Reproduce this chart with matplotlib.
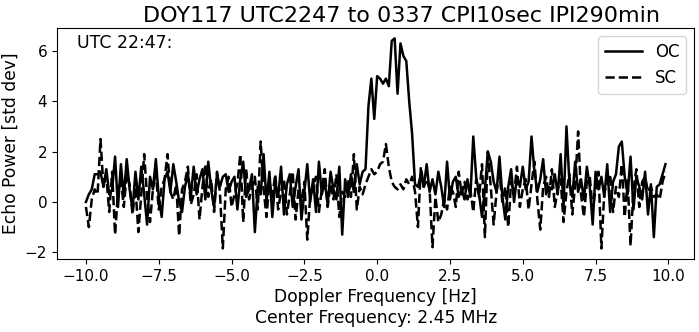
import numpy as np
import matplotlib
matplotlib.use("Agg")
from matplotlib import pyplot as plt

# doppler bins, 0.1 Hz resolution (CPI 10 s)
freq = np.round(np.arange(-100, 100) * 0.1, 1)

# echo power, opposite circular (OC) polarisation [std dev]
oc_power = [
    0.0, 0.3, 0.5, 1.1, 1.1, 1.2, 0.6, 1.3, 0.3, 0.5,
    1.8, -0.2, 1.5, 0.2, 1.7, 0.5, -0.3, 1.2, 0.1, 1.4,
    0.3, -0.9, 1.0, 0.5, 1.7, 0.2, -0.6, 0.9, 1.2, 0.4,
    1.5, 0.8, 0.0, -0.4, 0.6, 1.1, 0.2, 1.4, 0.3, 0.9,
    1.3, 0.1, 1.6, 0.5, -0.2, 1.1, 0.6, 1.0, 1.1, 0.4,
    0.8, 1.0, -0.3, 0.9, 1.6, 0.2, 0.5, 1.1, -1.2, 0.6,
    0.3, 1.9, 0.0, 1.2, -0.6, 0.8, 0.2, 1.4, -0.5, 0.7,
    1.1, -0.2, 0.6, 1.3, -0.7, 0.4, 1.5, 0.0, 0.9, -0.4,
    1.6, 0.3, 0.8, -0.1, 1.2, 0.5, 0.1, 1.4, -1.3, 0.9,
    0.2, 1.1, 0.4, 1.5, 0.7, 1.2, 1.3, 3.8, 4.9, 3.3,
    5.0, 4.9, 4.7, 4.9, 4.6, 6.4, 6.5, 4.3, 6.3, 5.8,
    5.6, 4.0, 2.7, 0.7, 0.6, 1.1, 0.6, 1.5, 0.4, 0.9,
    0.3, 1.2, 0.6, -0.2, 1.6, 0.1, 0.8, 1.0, 0.2, 0.5,
    0.1, 0.9, 0.2, 2.6, 1.0, 0.3, -0.6, 0.5, 2.0, 1.6,
    0.8, 0.4, 1.8, 0.2, -0.7, 0.6, 1.3, 0.0, 1.0, 0.6,
    1.4, 0.5, 0.8, 2.6, 1.2, 0.4, 0.9, 1.7, 0.3, 0.6,
    0.5, 1.1, 0.3, 1.9, -0.2, 3.0, 0.8, 0.2, 1.6, 0.4,
    0.9, 0.1, 1.4, 0.6, -0.9, 1.2, 0.5, 1.0, 0.2, 1.5,
    -0.4, 0.8, 1.1, 2.2, 2.4, 1.0, 0.3, 1.8, -0.3, 1.0,
    0.6, 0.1, 1.2, -0.5, 0.7, -1.4, 0.6, 0.7, 1.1, 1.5,
]

# echo power, same circular (SC) polarisation [std dev]
sc_power = [
    -0.2, -1.0, 0.1, 0.5, 0.3, 2.5, 0.6, 1.0, -0.4, 1.2,
    -1.3, 0.4, 0.9, -0.2, 1.1, 0.7, -0.5, 0.6, -1.2, 0.3,
    1.9, 0.2, -0.8, 0.5, 1.2, -0.3, 0.6, 0.9, 1.9, 0.4,
    0.1, 0.7, -1.35, 0.5, 0.8, 1.4, -0.1, 0.3, 1.1, -0.7,
    0.6, 1.5, 0.2, 0.9, -0.4, 1.2, 0.4, -1.85, 0.5, 1.0,
    -0.2, 0.3, 0.7, 1.9, -0.8, 1.3, 0.1, 0.6, 1.0, -0.3,
    2.4, 0.5, -0.6, 0.8, 0.2, 1.1, -0.3, 0.4, 0.9, -0.5,
    0.3, 1.2, -0.7, 0.5, 0.0, 0.8, -1.5, 0.2, 0.6, 1.0,
    -0.4, 0.5, 1.3, -0.2, 0.7, 0.1, 1.1, -0.6, 0.4, 0.2,
    0.9, 0.2, 1.9, -0.3, 0.6, 0.3, 0.7, 1.0, 1.3, 1.1,
    1.2, 1.5, 1.6, 2.3, 1.4, 0.8, 0.6, 0.5, 0.7, 0.5,
    0.9, 0.7, 1.0, 0.4, -1.0, 1.4, 0.6, 0.9, 0.5, -1.8,
    0.2, -0.8, -0.5, 0.1, -0.3, 0.6, 0.4, -0.2, 1.2, 0.3,
    0.8, 0.1, 0.5, -0.4, 0.9, 0.2, 1.5, -1.4, 2.0, 0.6,
    -0.9, 0.4, 1.1, 0.0, 0.6, -1.0, 0.8, 0.3, 1.4, -0.2,
    0.5, 0.9, -0.3, 0.7, 1.6, 0.1, -1.1, 0.6, 1.0, 0.2,
    1.3, -0.2, 0.5, 0.9, -0.8, 0.4, 1.1, -0.5, 0.7, 2.8,
    0.3, -0.6, 0.8, 1.0, -0.3, 0.5, 1.2, -1.85, 0.4, 0.7,
    1.1, -0.4, 0.6, 0.2, 1.5, -0.6, 0.9, -1.75, 0.5, 1.3,
    -0.2, 0.8, 1.0, 0.4, 0.6, 0.2, 0.3, 0.1, 0.8, 1.2,
]

fig = plt.figure(figsize=(6.99, 3.32), dpi=100)
ax = fig.add_axes([0.0815, 0.22, 0.912, 0.696])

ax.plot(freq, oc_power, 'k-', lw=1.8, label='OC')
ax.plot(freq, sc_power, 'k--', lw=1.8, label='SC')

ax.set_title('DOY117 UTC2247 to 0337 CPI10sec IPI290min', fontsize=16, pad=4, x=0.54)
ax.set_xlabel('Doppler Frequency [Hz]\nCenter Frequency: 2.45 MHz', fontsize=12.3,
              linespacing=1.25, labelpad=3)
ax.set_ylabel('Echo Power [std dev]', fontsize=12.3)
ax.text(0.031, 0.975, 'UTC 22:47:', transform=ax.transAxes, fontsize=12.5,
        va='top', ha='left')
ax.legend(loc='upper right', fontsize=12, handlelength=2.2)
ax.tick_params(labelsize=11)

fig.savefig('out.png', dpi=100)
